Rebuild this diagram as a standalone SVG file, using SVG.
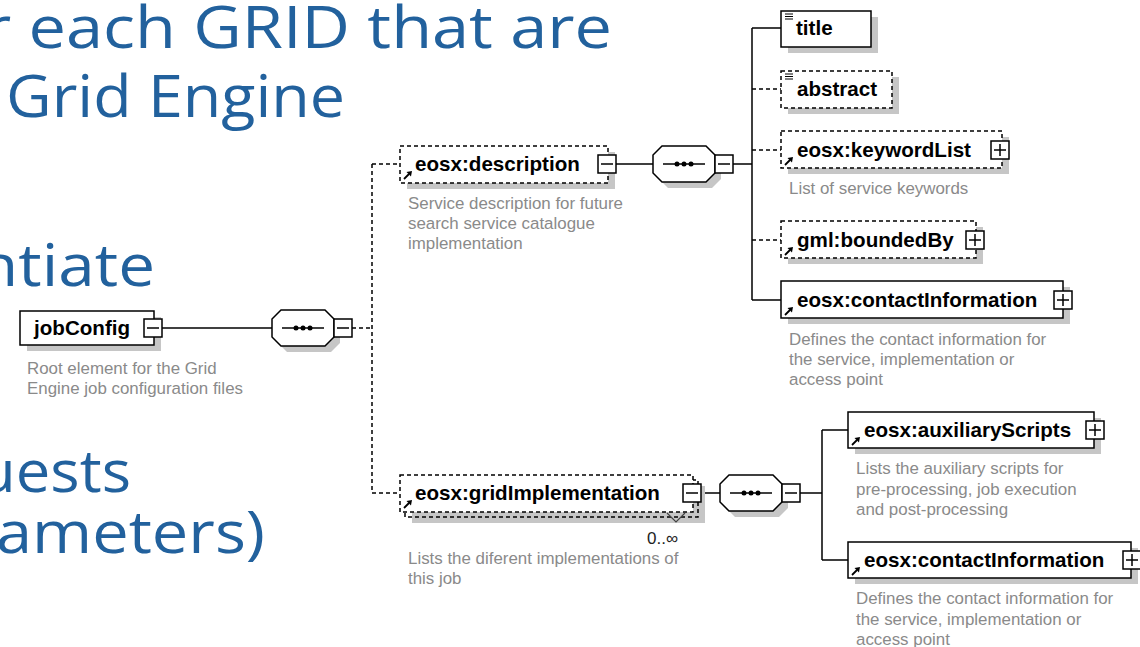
<svg xmlns="http://www.w3.org/2000/svg" xmlns:xlink="http://www.w3.org/1999/xlink" width="1140" height="647" viewBox="0 0 1140 647">
<style>
.box{fill:#fff;stroke:#000;stroke-width:1.5}
.dbox{fill:#fff;stroke:#000;stroke-width:1.5;stroke-dasharray:4 3}
.dback{fill:none;stroke:#000;stroke-width:1.5;stroke-dasharray:4 3}
.sh{fill:#c6c6c6}
.nm{font-family:"Liberation Sans",Arial,sans-serif;font-weight:bold;font-size:20.6px;fill:#000}
.ds{font-family:"Liberation Sans",Arial,sans-serif;font-size:16.9px;fill:#8a8a8a}
.card{font-family:"Liberation Sans",Arial,sans-serif;font-size:17px;fill:#222}
.big{font-family:"Open Sans","Liberation Sans",sans-serif;font-size:58px;fill:#22619d}
.ln{stroke:#000;stroke-width:1.5;fill:none}
.dln{stroke:#000;stroke-width:1.5;fill:none;stroke-dasharray:4 3}
</style>
<defs>
<symbol id="ref" viewBox="0 0 9 9" width="9" height="9" overflow="visible">
<path d="M1,8 L6,3" stroke="#000" stroke-width="1.8" fill="none"/>
<polygon points="3.5,1 9,0 8,5.5" fill="#000"/>
</symbol>
<symbol id="txt" viewBox="0 0 8 8" width="8" height="8" overflow="visible">
<path d="M0,1 H8 M0,3.5 H8 M0,6 H8" stroke="#000" stroke-width="1"/>
</symbol>
<symbol id="minus" viewBox="0 0 18 18" width="18" height="18" overflow="visible">
<rect x="0" y="0" width="18" height="18" fill="#fff" stroke="#000" stroke-width="1.5"/>
<path d="M3,9 H15" stroke="#000" stroke-width="1.5"/>
</symbol>
<symbol id="plus" viewBox="0 0 18 18" width="18" height="18" overflow="visible">
<rect x="0" y="0" width="18" height="18" fill="#fff" stroke="#000" stroke-width="1.5"/>
<path d="M3,9 H15 M9,3 V15" stroke="#000" stroke-width="1.5"/>
</symbol>
<symbol id="seq" viewBox="0 0 62 36" width="62" height="36" overflow="visible">
<path d="M9,0 H53 L62,9 V27 L53,36 H9 L0,27 V9 Z" fill="#fff" stroke="#000" stroke-width="1.5"/>
<path d="M10,18 H52" stroke="#000" stroke-width="1.5"/>
<circle cx="24" cy="18" r="2.5" fill="#000"/>
<circle cx="31" cy="18" r="2.5" fill="#000"/>
<circle cx="38" cy="18" r="2.5" fill="#000"/>
</symbol>
<symbol id="seqsh" viewBox="0 0 62 36" width="62" height="36" overflow="visible">
<path d="M9,0 H53 L62,9 V27 L53,36 H9 L0,27 V9 Z" fill="#c6c6c6"/>
</symbol>
</defs>
<rect x="0" y="0" width="1140" height="647" fill="#fff"/>

<g id="slide-text">
<text class="big" x="-16" y="48" textLength="628" lengthAdjust="spacingAndGlyphs">r each GRID that are</text>
<text class="big" x="6" y="117" textLength="339" lengthAdjust="spacingAndGlyphs">Grid Engine</text>
<text class="big" x="-22" y="286" textLength="177" lengthAdjust="spacingAndGlyphs">ntiate</text>
<text class="big" x="-22" y="492" textLength="153" lengthAdjust="spacingAndGlyphs">uests</text>
<text class="big" x="-4" y="553" textLength="269" lengthAdjust="spacingAndGlyphs">ameters)</text>
</g>

<g id="connectors">
<path class="ln" d="M162,328 H272"/>
<path class="dln" d="M352,328 H372 M372,164 V493 M372,164 H400 M372,493 H400"/>
<path class="ln" d="M616,164 H653 M733,164 H752 M752,28 V300 M752,28 H781 M752,300 H781"/>
<path class="dln" d="M752,89 H781 M752,150 H781 M752,240 H781"/>
<path class="ln" d="M701,493 H720 M800,493 H822 M822,430 V560 M822,430 H848 M822,560 H848"/>
</g>

<g id="jobConfig">
<rect class="sh" x="27" y="317" width="134" height="34"/>
<rect class="box" x="20" y="311" width="134" height="34"/>
<text class="nm" x="34" y="335">jobConfig</text>
<use href="#minus" x="144" y="319" width="18" height="18"/>
<text class="ds" x="27" y="374">Root element for the Grid</text>
<text class="ds" x="27" y="394">Engine job configuration files</text>
</g>

<g id="seq1">
<use href="#seqsh" x="278" y="316" width="62" height="36"/>
<use href="#seq" x="272" y="310" width="62" height="36"/>
<use href="#minus" x="334" y="319" width="18" height="18"/>
</g>

<g id="eosx-description">
<rect class="sh" x="407" y="152" width="208" height="37"/>
<rect class="dbox" x="400" y="146" width="208" height="37"/>
<use href="#ref" x="403" y="171" width="9" height="9"/>
<text class="nm" x="415" y="171">eosx:description</text>
<use href="#minus" x="598" y="155" width="18" height="18"/>
<text class="ds" x="408" y="209">Service description for future</text>
<text class="ds" x="408" y="229">search service catalogue</text>
<text class="ds" x="408" y="249">implementation</text>
</g>

<g id="seq2">
<use href="#seqsh" x="659" y="152" width="62" height="36"/>
<use href="#seq" x="653" y="146" width="62" height="36"/>
<use href="#minus" x="715" y="155" width="18" height="18"/>
</g>

<g id="title">
<rect class="sh" x="788" y="17" width="90" height="36"/>
<rect class="box" x="781" y="11" width="90" height="36"/>
<use href="#txt" x="785" y="13" width="8" height="8"/>
<text class="nm" x="796" y="35">title</text>
</g>

<g id="abstract">
<rect class="sh" x="788" y="77" width="111" height="37"/>
<rect class="dbox" x="781" y="71" width="111" height="37"/>
<use href="#txt" x="785" y="73" width="8" height="8"/>
<text class="nm" x="797" y="96">abstract</text>
</g>

<g id="eosx-keywordList">
<rect class="sh" x="788" y="137" width="221" height="37"/>
<rect class="dbox" x="781" y="131" width="221" height="37"/>
<use href="#ref" x="784" y="157" width="9" height="9"/>
<text class="nm" x="797" y="157">eosx:keywordList</text>
<use href="#plus" x="991" y="141" width="18" height="18"/>
<text class="ds" x="789" y="194">List of service keywords</text>
</g>

<g id="gml-boundedBy">
<rect class="sh" x="788" y="227" width="195" height="37"/>
<rect class="dbox" x="781" y="221" width="195" height="37"/>
<use href="#ref" x="784" y="247" width="9" height="9"/>
<text class="nm" x="797" y="247">gml:boundedBy</text>
<use href="#plus" x="966" y="231" width="18" height="18"/>
</g>

<g id="eosx-contactInformation-1">
<rect class="sh" x="788" y="287" width="282" height="37"/>
<rect class="box" x="781" y="281" width="282" height="37"/>
<use href="#ref" x="784" y="307" width="9" height="9"/>
<text class="nm" x="797" y="307">eosx:contactInformation</text>
<use href="#plus" x="1054" y="291" width="18" height="18"/>
<text class="ds" x="789" y="345">Defines the contact information for</text>
<text class="ds" x="789" y="365">the service, implementation or</text>
<text class="ds" x="789" y="385">access point</text>
</g>

<g id="eosx-gridImplementation">
<rect class="sh" x="412" y="486" width="293" height="37"/>
<rect class="dback" x="405" y="480" width="293" height="37"/>
<rect class="dbox" x="400" y="475" width="293" height="37"/>
<use href="#ref" x="403" y="500" width="9" height="9"/>
<text class="nm" x="415" y="500">eosx:gridImplementation</text>
<use href="#minus" x="683" y="484" width="18" height="18"/>
<path d="M667,513 L676,522 L685,513" fill="none" stroke="#444" stroke-width="1.2"/>
<text class="card" x="647" y="544">0..∞</text>
<text class="ds" x="408" y="564">Lists the diferent implementations of</text>
<text class="ds" x="408" y="584">this job</text>
</g>

<g id="seq3">
<use href="#seqsh" x="726" y="481" width="62" height="36"/>
<use href="#seq" x="720" y="475" width="62" height="36"/>
<use href="#minus" x="782" y="484" width="18" height="18"/>
</g>

<g id="eosx-auxiliaryScripts">
<rect class="sh" x="855" y="418" width="246" height="36"/>
<rect class="box" x="848" y="412" width="246" height="36"/>
<use href="#ref" x="851" y="437" width="9" height="9"/>
<text class="nm" x="864" y="437">eosx:auxiliaryScripts</text>
<use href="#plus" x="1086" y="421" width="18" height="18"/>
<text class="ds" x="856" y="474">Lists the auxiliary scripts for</text>
<text class="ds" x="856" y="495">pre-processing, job execution</text>
<text class="ds" x="856" y="515">and post-processing</text>
</g>

<g id="eosx-contactInformation-2">
<rect class="sh" x="855" y="548" width="283" height="36"/>
<rect class="box" x="848" y="542" width="283" height="36"/>
<use href="#ref" x="851" y="567" width="9" height="9"/>
<text class="nm" x="864" y="567">eosx:contactInformation</text>
<use href="#plus" x="1123" y="551" width="18" height="18"/>
<text class="ds" x="856" y="604">Defines the contact information for</text>
<text class="ds" x="856" y="625">the service, implementation or</text>
<text class="ds" x="856" y="645">access point</text>
</g>
</svg>
